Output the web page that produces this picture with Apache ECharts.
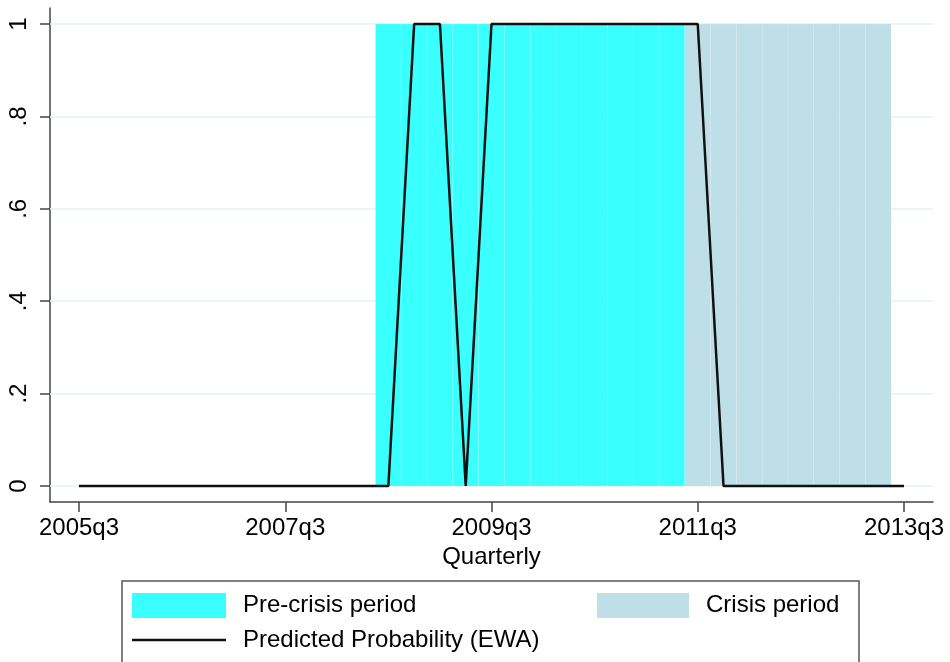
<!DOCTYPE html>
<html>
<head>
<meta charset="utf-8">
<script src="https://cdn.jsdelivr.net/npm/echarts@6/dist/echarts.min.js"></script>
<style>
html,body{margin:0;padding:0;background:#fff;}
#c{width:950px;height:662px;}
</style>
</head>
<body>
<div id="c"></div>
<script>
// Quarter index: 0 = 2005q3 ... 32 = 2013q3
const quarterIdx = [0,1,2,3,4,5,6,7,8,9,10,11,12,13,14,15,16,17,18,19,20,21,22,23,24,25,26,27,28,29,30,31,32];
const predictedProb = [0,0,0,0,0,0,0,0,0,0,0,0,0,1,1,0,1,1,1,1,1,1,1,1,1,0,0,0,0,0,0,0,0];
const preCrisisQuarters = [12,13,14,15,16,17,18,19,20,21,22,23];
const crisisQuarters = [24,25,26,27,28,29,30,31];
const xTickValues = [0,8,16,24,32];
const xTickLabels = ['2005q3','2007q3','2009q3','2011q3','2013q3'];
const yTickValues = [0,0.2,0.4,0.6,0.8,1];
const yTickLabels = ['0','.2','.4','.6','.8','1'];

const FONT = 'Liberation Sans, Helvetica, Arial, sans-serif';
const PRE_COLOR = '#3affff';
const CRISIS_COLOR = '#bedfe7';

function barRender(color) {
  return function (params, api) {
    const x = api.value(0);
    const h = api.value(1);
    const p0 = api.coord([x - 0.5, h]);
    const p1 = api.coord([x + 0.5, 0]);
    return {
      type: 'rect',
      shape: { x: p0[0], y: p0[1], width: p1[0] - p0[0], height: p1[1] - p0[1] },
      style: { fill: color, stroke: 'rgba(255,255,255,0.12)', lineWidth: 1 }
    };
  };
}

const chart = echarts.init(document.getElementById('c'), null, { renderer: 'canvas' });
chart.setOption({
  animation: false,
  backgroundColor: '#fff',
  textStyle: { fontFamily: FONT },
  grid: { left: 50, right: 17, top: 8, bottom: 160, containLabel: false },
  xAxis: {
    type: 'value',
    min: -1.125, max: 33.125,
    name: 'Quarterly',
    nameLocation: 'middle',
    nameGap: 42,
    nameTextStyle: { fontSize: 24, color: '#000', fontFamily: FONT },
    axisLine: { show: true, onZero: false, lineStyle: { color: '#444', width: 1.5 } },
    axisTick: { show: true, length: 10, customValues: xTickValues, lineStyle: { color: '#444', width: 1.5 } },
    axisLabel: {
      customValues: xTickValues, margin: 14, fontSize: 24, color: '#000', fontFamily: FONT,
      formatter: v => xTickLabels[xTickValues.indexOf(v)]
    },
    splitLine: { show: false }
  },
  yAxis: {
    type: 'value',
    min: -0.0346, max: 1.0346,
    axisLine: { show: true, onZero: false, lineStyle: { color: '#444', width: 1.5 } },
    axisTick: { show: true, length: 10, customValues: yTickValues, lineStyle: { color: '#444', width: 1.5 } },
    axisLabel: {
      customValues: yTickValues, rotate: 90, margin: 19, fontSize: 24, color: '#000', fontFamily: FONT,
      formatter: v => yTickLabels[yTickValues.indexOf(v)]
    },
    splitLine: { show: false }
  },
  legend: [
    {
      left: 132, top: 593, orient: 'vertical', padding: 0,
      itemWidth: 94, itemHeight: 25, itemGap: 10, symbolKeepAspect: true,
      textStyle: { fontSize: 24, color: '#000', fontFamily: FONT, padding: [0, 0, 0, 12] },
      data: [
        { name: 'Pre-crisis period', icon: 'rect' },
        { name: 'Predicted Probability (EWA)', icon: 'path://M0 0H94V2.5H0Z' }
      ]
    },
    {
      left: 597, top: 593, orient: 'vertical', padding: 0,
      itemWidth: 92, itemHeight: 25,
      textStyle: { fontSize: 24, color: '#000', fontFamily: FONT, padding: [0, 0, 0, 12] },
      data: [{ name: 'Crisis period', icon: 'rect' }]
    }
  ],
  graphic: [{
    type: 'rect', z: 0, silent: true,
    shape: { x: 122, y: 581, width: 737, height: 120 },
    style: { fill: '#fff', stroke: '#555', lineWidth: 1.5 }
  }],
  series: [
    {
      name: 'gridlines', type: 'line', data: [], z: 1, silent: true,
      markLine: {
        z: 1, silent: true, symbol: 'none', animation: false,
        label: { show: false },
        lineStyle: { color: '#e7f0f1', width: 1.5, type: 'solid' },
        data: yTickValues.map(v => ({ yAxis: v }))
      }
    },
    {
      name: 'Pre-crisis period', type: 'custom', z: 2,
      itemStyle: { color: PRE_COLOR },
      renderItem: barRender(PRE_COLOR),
      data: preCrisisQuarters.map(q => [q, 1])
    },
    {
      name: 'Crisis period', type: 'custom', z: 2,
      itemStyle: { color: CRISIS_COLOR },
      renderItem: barRender(CRISIS_COLOR),
      data: crisisQuarters.map(q => [q, 1])
    },
    {
      name: 'Predicted Probability (EWA)', type: 'line', z: 3,
      symbol: 'none',
      lineStyle: { color: '#111', width: 2.5 },
      itemStyle: { color: '#111' },
      data: quarterIdx.map((q, i) => [q, predictedProb[i]])
    }
  ]
});
</script>
</body>
</html>
